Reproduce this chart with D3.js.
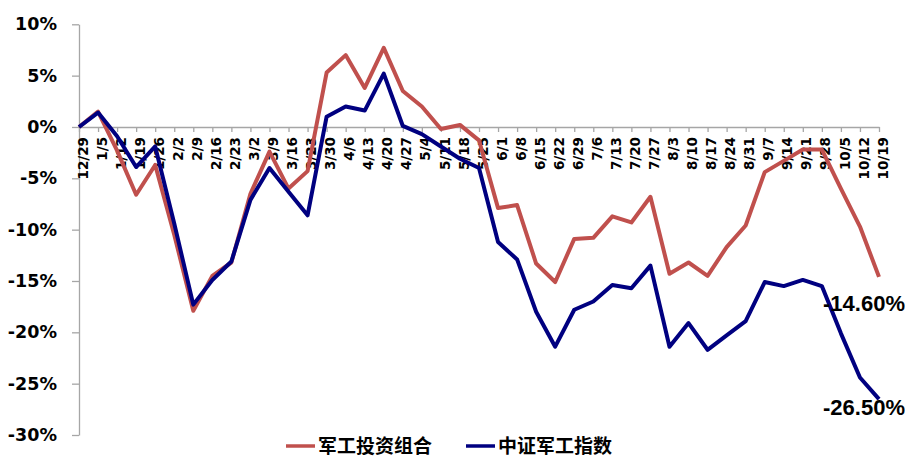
<!DOCTYPE html>
<html>
<head>
<meta charset="utf-8">
<script src="https://cdn.jsdelivr.net/npm/d3@7"></script>
<style>
  html, body { margin: 0; padding: 0; background: #fff; }
  svg { display: block; }
</style>
</head>
<body>
<svg id="chart" width="905" height="459"></svg>
<script>
const categories = ["12/29","1/5","1/12","1/19","1/26","2/2","2/9","2/16","2/23","3/2","3/9","3/16","3/23","3/30","4/6","4/13","4/20","4/27","5/4","5/11","5/18","5/25","6/1","6/8","6/15","6/22","6/29","7/6","7/13","7/20","7/27","8/3","8/10","8/17","8/24","8/31","9/7","9/14","9/21","9/28","10/5","10/12","10/19"];
const portfolio = [0, 1.5, -2.3, -6.6, -3.7, -10.5, -17.9, -14.5, -13.2, -6.5, -2.4, -6.0, -4.3, 5.3, 7.0, 3.8, 7.7, 3.5, 2.0, -0.2, 0.2, -1.3, -7.9, -7.6, -13.3, -15.1, -10.9, -10.8, -8.7, -9.3, -6.8, -14.3, -13.2, -14.5, -11.7, -9.6, -4.4, -3.3, -2.2, -2.2, -6.0, -9.7, -14.6];
const index = [0, 1.4, -0.9, -3.9, -1.9, -9.4, -17.3, -14.9, -13.1, -7.1, -4.0, -6.3, -8.6, 1.0, 2.0, 1.6, 5.2, 0.1, -0.7, -1.9, -3.1, -4.0, -11.2, -12.9, -18.0, -21.4, -17.8, -17.0, -15.4, -15.7, -13.5, -21.4, -19.1, -21.7, -20.3, -18.9, -15.1, -15.5, -14.9, -15.5, -20.1, -24.4, -26.5];
const yTicks = [10, 5, 0, -5, -10, -15, -20, -25, -30];
const seriesNames = ["军工投资组合", "中证军工指数"];
const endLabels = ["-14.60%", "-26.50%"];

const colors = ["#C0504D", "#000080"];
const svg = d3.select("#chart");

const x = d3.scalePoint().domain(categories).range([79, 879]);
const y = d3.scaleLinear().domain([-30, 10]).range([435, 24.3]);

// Y axis
const yAxis = d3.axisLeft(y).tickValues(yTicks).tickSize(7).tickSizeOuter(0).tickFormat(d => d + "%").tickPadding(15);
const gy = svg.append("g").attr("transform", "translate(79,0)").call(yAxis);
gy.select(".domain").attr("stroke", "#a6a6a6").attr("stroke-width", 1.3);
gy.selectAll(".tick line").attr("stroke", "#a6a6a6").attr("stroke-width", 1.3);
gy.selectAll(".tick text")
  .attr("font-family", "DejaVu Sans")
  .attr("font-weight", "bold")
  .attr("font-size", "17.5px")
  .attr("fill", "#000");

// X axis at 0%
const xAxis = d3.axisBottom(x).tickSize(5).tickSizeOuter(0);
const gx = svg.append("g").attr("transform", `translate(0,${y(0)})`).call(xAxis);
gx.select(".domain").attr("stroke", "#a6a6a6").attr("stroke-width", 1.3);
gx.selectAll(".tick line").attr("stroke", "#a6a6a6").attr("stroke-width", 1.3);
gx.selectAll(".tick text")
  .attr("font-family", "DejaVu Sans")
  .attr("font-weight", "bold")
  .attr("font-size", "13.5px")
  .attr("fill", "#000")
  .attr("text-anchor", "end")
  .attr("transform", "translate(0,10) rotate(-90)")
  .attr("x", 0)
  .attr("y", 0)
  .attr("dy", "0.6em");

// Lines
const line = d3.line().x((d, i) => x(categories[i])).y(d => y(d));
[portfolio, index].forEach((s, k) => {
  svg.append("path")
    .datum(s)
    .attr("fill", "none")
    .attr("stroke", colors[k])
    .attr("stroke-width", 4)
    .attr("stroke-linejoin", "round")
    .attr("d", line);
});

// End labels (right-aligned at the chart edge)
[portfolio, index].forEach((s, k) => {
  svg.append("text")
    .attr("x", 905)
    .attr("y", y(s[s.length - 1]) + (k === 0 ? 34 : 16))
    .attr("text-anchor", "end")
    .attr("font-family", "Liberation Sans")
    .attr("font-weight", "bold")
    .attr("font-size", "22px")
    .attr("fill", "#000")
    .text(endLabels[k]);
});

// Legend
const legendX = [286, 466];
seriesNames.forEach((name, k) => {
  const g = svg.append("g").attr("transform", `translate(${legendX[k]},446)`);
  g.append("line").attr("x1", 0).attr("x2", 29).attr("y1", 0).attr("y2", 0)
    .attr("stroke", colors[k]).attr("stroke-width", 3.5);
  g.append("text").attr("x", 32).attr("y", 0).attr("dy", "0.36em")
    .attr("font-family", "Noto Sans CJK SC")
    .attr("font-weight", "bold")
    .attr("font-size", "19px")
    .attr("fill", "#000")
    .text(name);
});
</script>
</body>
</html>
